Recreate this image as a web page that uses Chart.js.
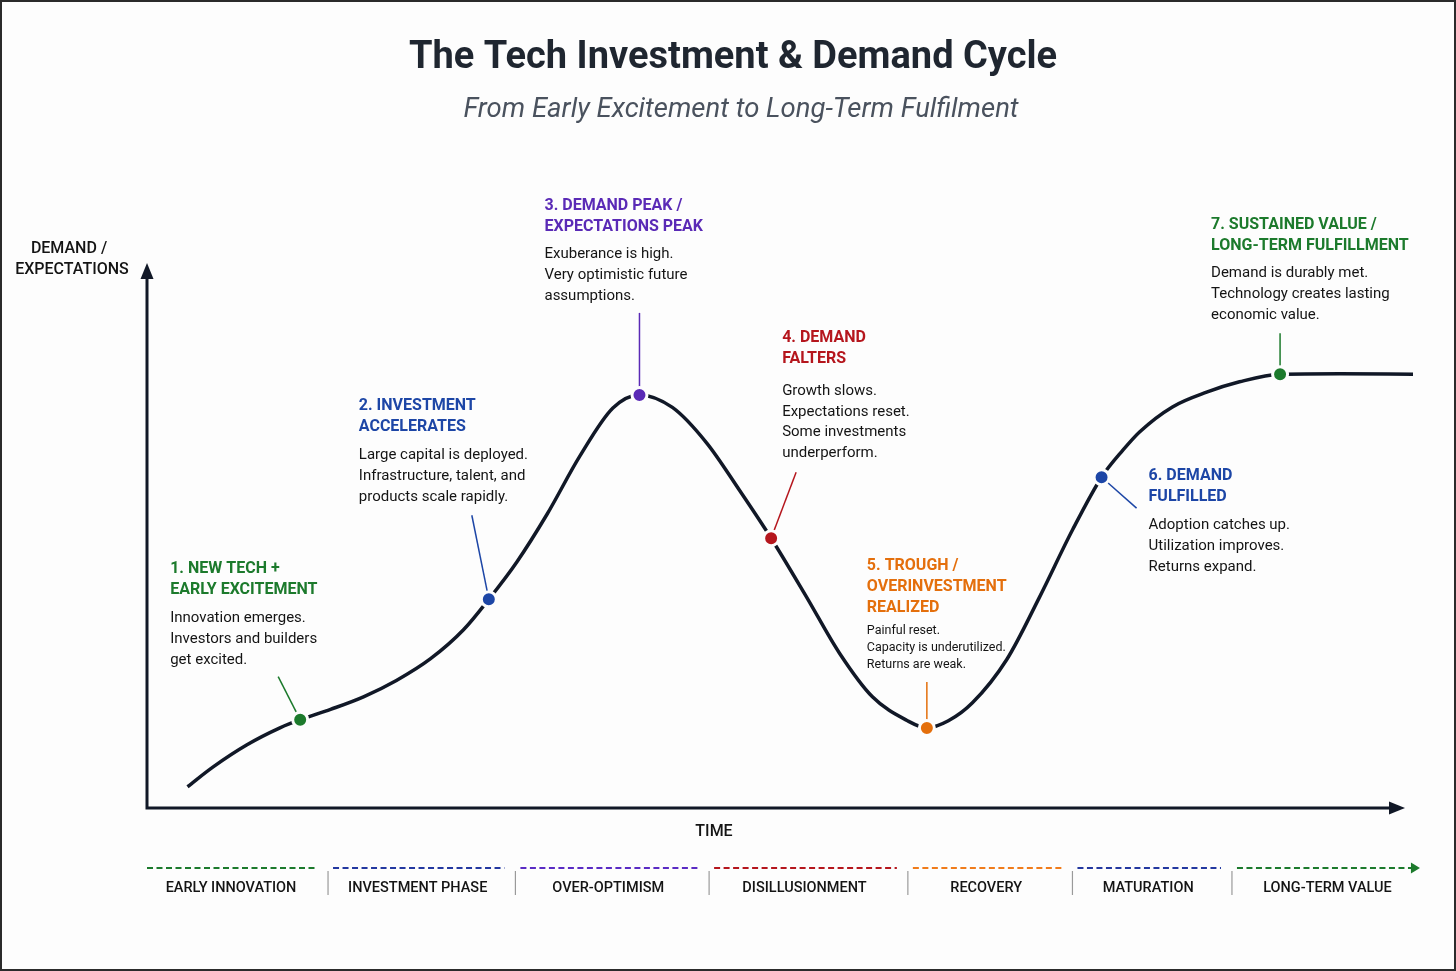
<!DOCTYPE html>
<html>
<head>
<meta charset="utf-8">
<title>The Tech Investment &amp; Demand Cycle</title>
<script src="https://cdn.jsdelivr.net/npm/chart.js@4.4.1/dist/chart.umd.min.js"></script>
<style>
  html, body { margin: 0; padding: 0; background: #fdfdfd; }
  #wrap { width: 1456px; height: 971px; }
</style>
</head>
<body>
<div id="wrap"><canvas id="cycleChart" width="1456" height="971"></canvas></div>
<script>
// Cycle curve (time 0-100, demand/expectations 0-100)
const curveTime  = [3.2, 5.2, 7.9, 10.5, 12.1, 14.5, 17.1, 19.7, 22.4, 25.0, 27.0, 29.2, 31.6, 34.2, 36.8, 38.9, 41.5, 44.2, 46.8, 49.3, 52.1, 54.7, 57.3, 60.0, 61.6, 63.3, 65.2, 67.9, 70.5, 73.1, 75.4, 77.1, 78.4, 81.0, 83.7, 86.3, 89.5, 94.2, 100.0];
const curveLevel = [3.9, 7.5, 11.6, 14.7, 16.2, 18.1, 20.4, 23.4, 27.4, 32.7, 38.3, 45.1, 53.9, 64.6, 73.4, 75.8, 73.5, 67.0, 58.3, 49.5, 38.7, 28.4, 20.4, 16.1, 14.7, 16.0, 19.3, 27.2, 38.7, 51.0, 60.7, 65.7, 69.0, 73.6, 76.3, 78.2, 79.6, 79.7, 79.6];

// Milestones on the curve
const milestoneTime  = [12.1, 27.0, 38.9, 49.3, 61.6, 75.4, 89.5];
const milestoneLevel = [16.2, 38.3, 75.8, 49.5, 14.7, 60.7, 79.6];
const milestoneTitles = [
  ['1. NEW TECH +', 'EARLY EXCITEMENT'],
  ['2. INVESTMENT', 'ACCELERATES'],
  ['3. DEMAND PEAK /', 'EXPECTATIONS PEAK'],
  ['4. DEMAND', 'FALTERS'],
  ['5. TROUGH /', 'OVERINVESTMENT', 'REALIZED'],
  ['6. DEMAND', 'FULFILLED'],
  ['7. SUSTAINED VALUE /', 'LONG-TERM FULFILLMENT']
];
const milestoneNotes = [
  ['Innovation emerges.', 'Investors and builders', 'get excited.'],
  ['Large capital is deployed.', 'Infrastructure, talent, and', 'products scale rapidly.'],
  ['Exuberance is high.', 'Very optimistic future', 'assumptions.'],
  ['Growth slows.', 'Expectations reset.', 'Some investments', 'underperform.'],
  ['Painful reset.', 'Capacity is underutilized.', 'Returns are weak.'],
  ['Adoption catches up.', 'Utilization improves.', 'Returns expand.'],
  ['Demand is durably met.', 'Technology creates lasting', 'economic value.']
];

// Phase strip under the time axis
const phaseNames = ['EARLY INNOVATION', 'INVESTMENT PHASE', 'OVER-OPTIMISM', 'DISILLUSIONMENT', 'RECOVERY', 'MATURATION', 'LONG-TERM VALUE'];
const phaseEdges = [0, 14.3, 29.1, 44.4, 60.1, 73.1, 85.7, 100.55];

// Styling
const COLORS = {
  green: '#1c7a2c',
  blue: '#1d46a6',
  purple: '#5a2ab6',
  red: '#b5161d',
  orange: '#e46f0c',
  ink: '#111827',
  text: '#141414'
};
const milestoneColors = [COLORS.green, COLORS.blue, COLORS.purple, COLORS.red, COLORS.orange, COLORS.blue, COLORS.green];
const phaseColors = [COLORS.green, '#2338a0', '#5a2bc4', '#b5161d', '#f07c1b', '#2338a0', COLORS.green];

// label offsets (from the milestone, in px) and leader line end offsets
const calloutLayout = [
  { dx: -130, dy: -151, lx: -22, ly: -43, gap: 29, noteFont: 15, noteLh: 21 },
  { dx: -130, dy: -193, lx: -17, ly: -84, gap: 28, noteFont: 15, noteLh: 21 },
  { dx: -95,  dy: -189, lx: 0,   ly: -82, gap: 27, noteFont: 15, noteLh: 21 },
  { dx: 11,   dy: -200, lx: 25,  ly: -66, gap: 32, noteFont: 15, noteLh: 20.7 },
  { dx: -60,  dy: -162, lx: 0,   ly: -46, gap: 23, noteFont: 12.5, noteLh: 17 },
  { dx: 47,   dy: -1,   lx: 35,  ly: 31,  gap: 28, noteFont: 15, noteLh: 21 },
  { dx: -69,  dy: -149, lx: 0,   ly: -41, gap: 27, noteFont: 15, noteLh: 21 }
];

const FONT = 'Roboto, "Noto Sans", sans-serif';

function drawLines(ctx, lines, x, y, lh) {
  lines.forEach((s, i) => ctx.fillText(s, x, y + i * lh));
}

const cycleDecor = {
  id: 'cycleDecor',
  beforeDraw(chart) {
    const { ctx, width, height } = chart;
    ctx.save();
    ctx.fillStyle = '#fdfdfd';
    ctx.fillRect(0, 0, width, height);
    ctx.strokeStyle = '#2b2b2b';
    ctx.lineWidth = 2;
    ctx.strokeRect(1, 1, width - 2, height - 2);
    ctx.restore();
  },
  beforeDatasetsDraw(chart) {
    const { ctx, chartArea: area, scales } = chart;
    ctx.save();
    // axes with arrowheads
    const left = area.left, bottom = area.bottom, top = area.top, tipX = area.right - 8;
    ctx.strokeStyle = COLORS.ink;
    ctx.fillStyle = COLORS.ink;
    ctx.lineWidth = 3;
    ctx.beginPath();
    ctx.moveTo(left, bottom + 1.5);
    ctx.lineTo(left, top + 14);
    ctx.moveTo(left - 1.5, bottom);
    ctx.lineTo(tipX - 14, bottom);
    ctx.stroke();
    ctx.beginPath();
    ctx.moveTo(left, top);
    ctx.lineTo(left - 6.5, top + 16);
    ctx.lineTo(left + 6.5, top + 16);
    ctx.closePath();
    ctx.fill();
    ctx.beginPath();
    ctx.moveTo(tipX, bottom);
    ctx.lineTo(tipX - 16, bottom - 6.5);
    ctx.lineTo(tipX - 16, bottom + 6.5);
    ctx.closePath();
    ctx.fill();

    // leader lines
    ctx.lineWidth = 1.5;
    milestoneTime.forEach((t, i) => {
      const px = scales.x.getPixelForValue(t);
      const py = scales.y.getPixelForValue(milestoneLevel[i]);
      const lay = calloutLayout[i];
      const len = Math.hypot(lay.lx, lay.ly);
      ctx.strokeStyle = milestoneColors[i];
      ctx.beginPath();
      ctx.moveTo(px + lay.lx / len * 8, py + lay.ly / len * 8);
      ctx.lineTo(px + lay.lx, py + lay.ly);
      ctx.stroke();
    });
    ctx.restore();
  },
  afterDatasetsDraw(chart) {
    const { ctx, chartArea: area, scales, width } = chart;
    ctx.save();
    ctx.textBaseline = 'middle';

    // title + subtitle
    ctx.textAlign = 'center';
    ctx.fillStyle = '#1f2630';
    ctx.font = 'bold 38px ' + FONT;
    ctx.fillText('The Tech Investment & Demand Cycle', width / 2 + 5, 58);
    ctx.fillStyle = '#4a525e';
    ctx.font = 'italic 27.5px ' + FONT;
    ctx.fillText('From Early Excitement to Long-Term Fulfilment', width / 2 + 13, 110);

    // axis titles
    ctx.fillStyle = COLORS.text;
    ctx.font = '500 16px ' + FONT;
    ctx.fillText('DEMAND /', area.left - 78, area.top - 14);
    ctx.fillText('EXPECTATIONS', area.left - 75, area.top + 7);
    ctx.fillText('TIME', area.left + 567, area.bottom + 24);

    // callouts
    ctx.textAlign = 'left';
    milestoneTime.forEach((t, i) => {
      const px = scales.x.getPixelForValue(t);
      const py = scales.y.getPixelForValue(milestoneLevel[i]);
      const lay = calloutLayout[i];
      const x = px + lay.dx;
      const y = py + lay.dy;
      const titles = milestoneTitles[i];
      ctx.fillStyle = milestoneColors[i];
      ctx.font = 'bold 16px ' + FONT;
      drawLines(ctx, titles, x, y, 21);
      ctx.fillStyle = COLORS.text;
      ctx.font = lay.noteFont + 'px ' + FONT;
      drawLines(ctx, milestoneNotes[i], x, y + (titles.length - 1) * 21 + lay.gap, lay.noteLh);
    });

    // phase strip
    const stripY = area.bottom + 60;
    ctx.textAlign = 'center';
    ctx.font = '500 14.5px ' + FONT;
    phaseNames.forEach((name, i) => {
      const x0 = scales.x.getPixelForValue(phaseEdges[i]);
      const x1 = scales.x.getPixelForValue(phaseEdges[i + 1]);
      const last = i === phaseNames.length - 1;
      const start = i === 0 ? x0 : x0 + 5;
      const end = last ? x1 - 7 : x1 - 11;
      ctx.strokeStyle = phaseColors[i];
      ctx.lineWidth = 2;
      ctx.setLineDash([6, 3.5]);
      ctx.beginPath();
      ctx.moveTo(start, stripY);
      ctx.lineTo(end, stripY);
      ctx.stroke();
      ctx.setLineDash([]);
      if (last) {
        ctx.fillStyle = phaseColors[i];
        ctx.beginPath();
        ctx.moveTo(x1, stripY);
        ctx.lineTo(x1 - 9, stripY - 5.5);
        ctx.lineTo(x1 - 9, stripY + 5.5);
        ctx.closePath();
        ctx.fill();
      } else {
        ctx.strokeStyle = '#9a9a9a';
        ctx.lineWidth = 1.2;
        ctx.beginPath();
        ctx.moveTo(x1, stripY + 3);
        ctx.lineTo(x1, stripY + 27);
        ctx.stroke();
      }
      ctx.fillStyle = COLORS.text;
      ctx.fillText(name, (start + (last ? x1 : end)) / 2 - 1, stripY + 20);
    });
    ctx.restore();
  }
};

const chart = new Chart(document.getElementById('cycleChart'), {
  type: 'line',
  data: {
    datasets: [
      {
        label: 'Milestones',
        data: milestoneTime.map((t, i) => ({ x: t, y: milestoneLevel[i] })),
        showLine: false,
        pointRadius: 7.5,
        pointBorderWidth: 3,
        pointBackgroundColor: milestoneColors,
        pointBorderColor: '#fdfdfd',
        clip: false,
        order: 0
      },
      {
        label: 'Demand / expectations',
        data: curveTime.map((t, i) => ({ x: t, y: curveLevel[i] })),
        borderColor: COLORS.ink,
        borderWidth: 3.5,
        pointRadius: 0,
        cubicInterpolationMode: 'monotone',
        borderCapStyle: 'butt',
        clip: false,
        order: 1
      }
    ]
  },
  options: {
    responsive: false,
    animation: false,
    devicePixelRatio: 1,
    layout: { padding: { left: 147, right: 43, top: 263, bottom: 163 } },
    scales: {
      x: { type: 'linear', min: 0, max: 100, display: false },
      y: { type: 'linear', min: 0, max: 100, display: false }
    },
    plugins: {
      legend: { display: false },
      tooltip: { enabled: false }
    }
  },
  plugins: [cycleDecor]
});
</script>
</body>
</html>
